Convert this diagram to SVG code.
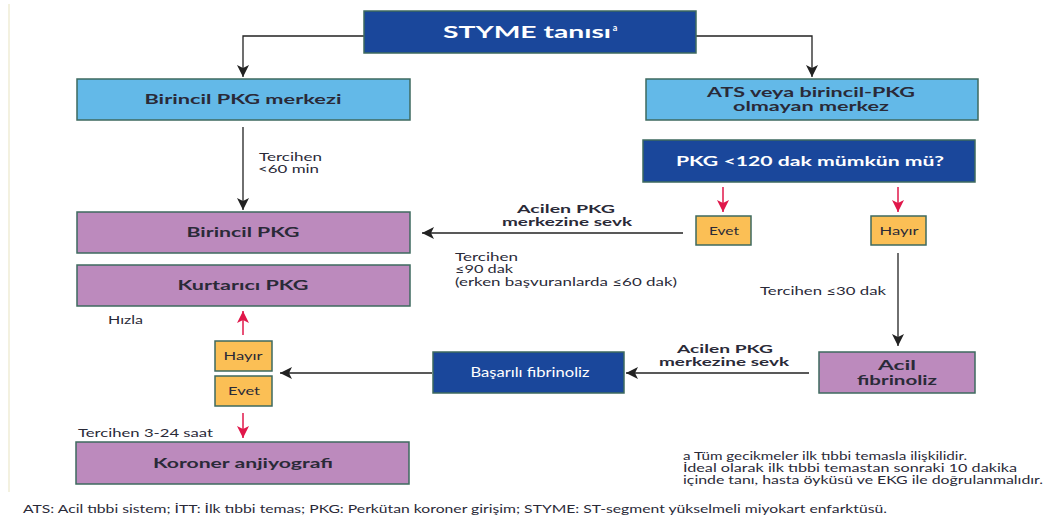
<svg xmlns="http://www.w3.org/2000/svg" width="1063" height="522" viewBox="0 0 1063 522">
<style>
.box{stroke:#3e6a5f;stroke-width:1.5}
.dk{fill:#1a479b}
.lb{fill:#63b9e8}
.pu{fill:#bc8abd}
.or{fill:#fbbf55}
.bt{font-family:Lato,"Open Sans",sans-serif;font-weight:bold;font-size:13px;fill:#2a2a38;text-anchor:middle}
.bs{font-family:Lato,"Open Sans",sans-serif;font-weight:bold;font-size:12px;fill:#2a2a38;text-anchor:middle}
.wt{font-family:Lato,"Open Sans",sans-serif;font-weight:bold;font-size:13px;fill:#ffffff;text-anchor:middle}
.st{font-family:Lato,"Open Sans",sans-serif;font-size:12px;fill:#2a2a38;text-anchor:middle}
.lab{font-family:Lato,"Open Sans",sans-serif;font-size:11.5px;fill:#2a2a38}
.con{fill:none;stroke:#222;stroke-width:1.3}
.red{fill:none;stroke:#e0174a;stroke-width:1.5}
</style>
<defs>
<marker id="ah" markerWidth="14" markerHeight="12" refX="12" refY="6" orient="auto" markerUnits="userSpaceOnUse"><path d="M0,0 L12,6 L0,12 L3,6 Z" fill="#222"/></marker>
<marker id="ar" markerWidth="14" markerHeight="12" refX="12" refY="6" orient="auto" markerUnits="userSpaceOnUse"><path d="M0,0 L12,6 L0,12 L3,6 Z" fill="#e0174a"/></marker>
</defs>
<rect width="1063" height="522" fill="#ffffff"/>
<line x1="9" y1="4" x2="9" y2="492" stroke="#f3f1e0" stroke-width="2"/>

<g id="connectors">
<path class="con" d="M364,36 H243 V77" marker-end="url(#ah)"/>
<path class="con" d="M696,36 H812 V77" marker-end="url(#ah)"/>
<path class="con" d="M243,127 V210" marker-end="url(#ah)"/>
<path class="red" d="M723,187 V212" marker-end="url(#ar)"/>
<path class="red" d="M898,187 V212" marker-end="url(#ar)"/>
<path class="con" d="M683,233 H422" marker-end="url(#ah)"/>
<path class="con" d="M898,253 V346" marker-end="url(#ah)"/>
<path class="con" d="M809,373 H626" marker-end="url(#ah)"/>
<path class="con" d="M432,373 H280" marker-end="url(#ah)"/>
<path class="red" d="M243,335 V311" marker-end="url(#ar)"/>
<path class="red" d="M243,413 V438" marker-end="url(#ar)"/>
<text class="lab" x="259" y="161" textLength="63" lengthAdjust="spacingAndGlyphs">Tercihen</text>
<text class="lab" x="258" y="173" textLength="61" lengthAdjust="spacingAndGlyphs">&lt;60 min</text>
<text class="bs" x="566" y="213" textLength="98" lengthAdjust="spacingAndGlyphs">Acilen PKG</text>
<text class="bs" x="567" y="226" textLength="130" lengthAdjust="spacingAndGlyphs">merkezine sevk</text>
<text class="lab" x="455" y="261" textLength="63" lengthAdjust="spacingAndGlyphs">Tercihen</text>
<text class="lab" x="455" y="273" textLength="58" lengthAdjust="spacingAndGlyphs">≤90 dak</text>
<text class="lab" x="455" y="286" textLength="222" lengthAdjust="spacingAndGlyphs">(erken başvuranlarda ≤60 dak)</text>
<text class="lab" x="760" y="295" textLength="126" lengthAdjust="spacingAndGlyphs">Tercihen ≤30 dak</text>
<text class="bs" x="725" y="353" textLength="96" lengthAdjust="spacingAndGlyphs">Acilen PKG</text>
<text class="bs" x="724" y="366" textLength="130" lengthAdjust="spacingAndGlyphs">merkezine sevk</text>
<text class="lab" x="108" y="324" textLength="35" lengthAdjust="spacingAndGlyphs">Hızla</text>
<text class="lab" x="78" y="437" textLength="135" lengthAdjust="spacingAndGlyphs">Tercihen 3-24 saat</text>
</g>

<g id="styme">
<rect class="box dk" x="364" y="11" width="332" height="42"/>
<text class="wt" x="527" y="38" style="font-size:17px" textLength="168" lengthAdjust="spacingAndGlyphs">STYME tanısı</text>
<text class="wt" x="615" y="31" style="font-size:9px">a</text>
</g>
<g id="birincil-merkez">
<rect class="box lb" x="77" y="79" width="333" height="41"/>
<text class="bt" x="243" y="104" textLength="197" lengthAdjust="spacingAndGlyphs">Birincil PKG merkezi</text>
</g>
<g id="ats">
<rect class="box lb" x="646" y="79" width="332" height="41"/>
<text class="bt" x="811" y="97" textLength="208" lengthAdjust="spacingAndGlyphs">ATS veya birincil-PKG</text>
<text class="bt" x="811" y="111" textLength="156" lengthAdjust="spacingAndGlyphs">olmayan merkez</text>
</g>
<g id="pkg120">
<rect class="box dk" x="643" y="140" width="332" height="42"/>
<text class="wt" x="810" y="166" textLength="268" lengthAdjust="spacingAndGlyphs">PKG &lt;120 dak mümkün mü?</text>
</g>
<g id="evet1">
<rect class="box or" x="696" y="216" width="55" height="29"/>
<text class="st" x="724" y="235" textLength="30" lengthAdjust="spacingAndGlyphs">Evet</text>
</g>
<g id="hayir1">
<rect class="box or" x="871" y="216" width="55" height="29"/>
<text class="st" x="899" y="235" textLength="39" lengthAdjust="spacingAndGlyphs">Hayır</text>
</g>
<g id="birincil-pkg">
<rect class="box pu" x="77" y="212" width="333" height="41"/>
<text class="bt" x="243" y="237" textLength="113" lengthAdjust="spacingAndGlyphs">Birincil PKG</text>
</g>
<g id="kurtarici">
<rect class="box pu" x="77" y="265" width="333" height="41"/>
<text class="bt" x="243" y="290" textLength="131" lengthAdjust="spacingAndGlyphs">Kurtarıcı PKG</text>
</g>
<g id="hayir2">
<rect class="box or" x="215" y="341" width="57" height="30"/>
<text class="st" x="243" y="360" textLength="39" lengthAdjust="spacingAndGlyphs">Hayır</text>
</g>
<g id="evet2">
<rect class="box or" x="215" y="376" width="57" height="30"/>
<text class="st" x="244" y="395" textLength="32" lengthAdjust="spacingAndGlyphs">Evet</text>
</g>
<g id="basarili">
<rect class="box dk" x="433" y="352" width="191" height="41"/>
<text class="wt" x="530" y="377" style="font-weight:normal;font-size:12.5px" textLength="119" lengthAdjust="spacingAndGlyphs">Başarılı fibrinoliz</text>
</g>
<g id="acil-fibrinoliz">
<rect class="box pu" x="819" y="352" width="156" height="41"/>
<text class="bt" x="897" y="370" textLength="38" lengthAdjust="spacingAndGlyphs">Acil</text>
<text class="bt" x="897" y="385" textLength="80" lengthAdjust="spacingAndGlyphs">fibrinoliz</text>
</g>
<g id="koroner">
<rect class="box pu" x="76" y="442" width="333" height="42"/>
<text class="bt" x="243" y="468" textLength="180" lengthAdjust="spacingAndGlyphs">Koroner anjiyografi</text>
</g>
<g id="notes">
<text class="lab" x="683" y="460" textLength="284" lengthAdjust="spacingAndGlyphs">a Tüm gecikmeler ilk tıbbi temasla ilişkilidir.</text>
<text class="lab" x="683" y="472" textLength="334" lengthAdjust="spacingAndGlyphs">İdeal olarak ilk tıbbi temastan sonraki 10 dakika</text>
<text class="lab" x="683" y="484" textLength="360" lengthAdjust="spacingAndGlyphs">içinde tanı, hasta öyküsü ve EKG ile doğrulanmalıdır.</text>
<text class="lab" x="23" y="513" textLength="864" lengthAdjust="spacingAndGlyphs">ATS: Acil tıbbi sistem; İTT: İlk tıbbi temas; PKG: Perkütan koroner girişim; STYME: ST-segment yükselmeli miyokart enfarktüsü.</text>
</g>
</svg>
